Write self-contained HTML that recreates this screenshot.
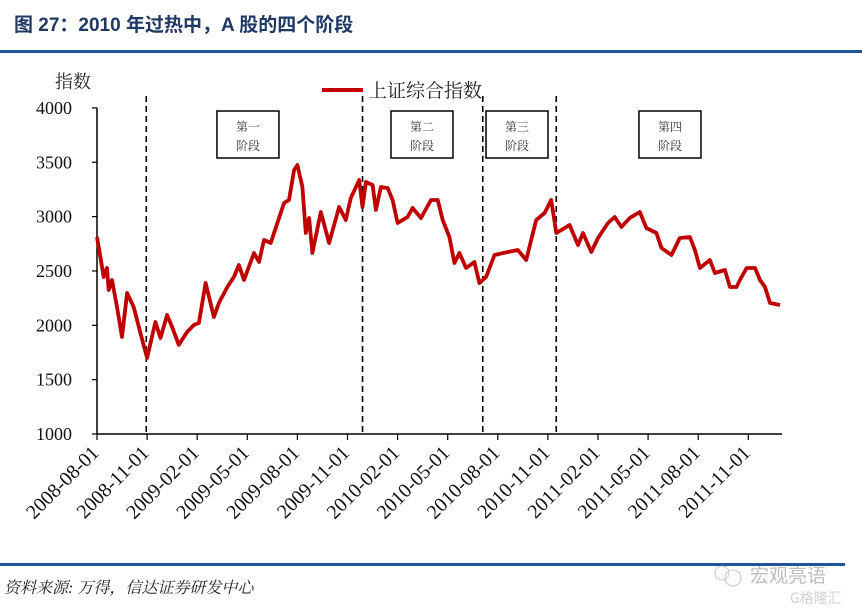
<!DOCTYPE html>
<html><head><meta charset="utf-8">
<style>
html,body{margin:0;padding:0;background:#fff;}
body{width:862px;height:611px;overflow:hidden;position:relative;font-family:"Liberation Serif","Noto Serif CJK SC",serif;}
</style></head>
<body>
<svg width="862" height="611" viewBox="0 0 862 611" xmlns="http://www.w3.org/2000/svg">
  <text x="14" y="31" font-family="Liberation Sans, Noto Sans CJK SC, sans-serif" font-weight="bold" font-size="19" fill="#1f3864">图 27：2010 年过热中，A 股的四个阶段</text>
  <rect x="0" y="50" width="862" height="3" fill="#1f5597"/>
  <text x="55" y="88" font-size="18" fill="#222" font-family="Liberation Serif, Noto Serif CJK SC, serif">指数</text>
  <g id="axes"></g>
  <g id="stages"></g>
  <g id="series"></g>
  <g>
    <line x1="322" y1="90" x2="363" y2="90" stroke="#c00000" stroke-width="4"/>
    <text x="368" y="97" font-size="19" fill="#222" font-family="Liberation Serif, Noto Serif CJK SC, serif">上证综合指数</text>
  </g>
  <rect x="0" y="563" width="845" height="3" fill="#1f5597"/>
  <text x="4" y="593" font-size="16" font-style="italic" fill="#222" font-family="Liberation Serif, Noto Serif CJK SC, serif">资料来源: 万得，信达证券研发中心</text>
  <g opacity="0.55">
    <circle cx="722" cy="573" r="7" fill="none" stroke="#999"/>
    <circle cx="733" cy="578" r="8" fill="none" stroke="#999"/>
    <text x="750" y="582" font-size="19" fill="#888" font-family="Noto Sans CJK SC, sans-serif">宏观亮语</text>
    <text x="790" y="603" font-size="14" fill="#aaa" font-family="Noto Sans CJK SC, sans-serif">G格隆汇</text>
  </g>
</svg>
<script>
// month offsets since 2008-08-01
var monthsT=[0,.4,.6,.7,.9,1.2,1.5,1.8,2.2,2.6,3.0,3.5,3.8,4.2,4.5,4.9,5.4,5.8,6.1,6.5,7.0,7.3,7.8,8.2,8.5,8.8,9.4,9.7,10.0,10.4,10.8,11.2,11.5,11.8,12.0,12.3,12.5,12.7,12.9,13.4,13.9,14.5,14.9,15.2,15.7,15.9,16.1,16.5,16.7,17.0,17.4,17.7,18.0,18.6,18.9,19.4,20.0,20.4,20.7,21.1,21.4,21.7,22.1,22.6,22.9,23.3,23.8,24.6,25.2,25.7,26.3,26.8,27.2,27.5,28.3,28.8,29.1,29.6,30.0,30.6,31.0,31.4,31.9,32.5,32.9,33.5,33.8,34.4,34.9,35.5,35.8,36.1,36.7,37.0,37.6,37.9,38.3,38.5,38.9,39.4,39.7,40.0,40.3,40.9];
var indexValues=[2812,2444,2527,2325,2417,2168,1892,2297,2168,1929,1700,2030,1883,2095,1985,1820,1940,2003,2021,2389,2076,2205,2352,2444,2555,2417,2665,2582,2785,2757,2941,3125,3153,3429,3475,3272,2849,2987,2665,3042,2757,3088,2969,3171,3337,3088,3318,3291,3061,3272,3263,3153,2941,2996,3079,2987,3153,3153,2969,2812,2573,2665,2527,2582,2389,2444,2647,2674,2693,2601,2969,3033,3153,2849,2923,2739,2849,2674,2803,2941,2996,2904,2987,3042,2895,2849,2711,2647,2803,2812,2693,2527,2601,2481,2509,2352,2352,2417,2527,2527,2417,2352,2205,2187];
var yTicks=[1000,1500,2000,2500,3000,3500,4000];
var xTickLabels=["2008-08-01","2008-11-01","2009-02-01","2009-05-01","2009-08-01","2009-11-01","2010-02-01","2010-05-01","2010-08-01","2010-11-01","2011-02-01","2011-05-01","2011-08-01","2011-11-01"];
var stageBoundaries=[2.95,15.9,23.1,27.5];
var stageLabels=["第一","第二","第三","第四"];
var stageBoxMonths=[9.04,19.46,25.15,34.31];

var NS="http://www.w3.org/2000/svg";
var X0=97,PXM=16.7,Y1000=434,PX=0.1087;
function xs(m){return X0+m*PXM;}
function ys(v){return Y1000-(v-1000)*PX;}
function mk(tag,attrs,parent){var e=document.createElementNS(NS,tag);for(var k in attrs)e.setAttribute(k,attrs[k]);parent.appendChild(e);return e;}
var axes=document.getElementById('axes');
var ax=mk('line',{x1:X0,y1:ys(4000),x2:X0,y2:Y1000,stroke:'#000','stroke-width':1.5},axes);


var bx=mk('line',{x1:X0,y1:Y1000,x2:782,y2:Y1000,stroke:'#000','stroke-width':1.5},axes);


yTicks.forEach(function(v){
  var t=mk('line',{x1:X0-5,y1:ys(v),x2:X0,y2:ys(v),stroke:'#000','stroke-width':1.2},axes);
  
  
  var l=mk('text',{x:72,y:ys(v)+6,'text-anchor':'end','font-size':18,fill:'#111'},axes);
  l.textContent=v;
  
  
});
xTickLabels.forEach(function(s,i){
  var x=xs(i*3);
  var t=mk('line',{x1:x,y1:Y1000,x2:x,y2:Y1000+6,stroke:'#000','stroke-width':1.2},axes);
  
  
  var l=mk('text',{x:x+3,y:Y1000+20,'text-anchor':'end','font-size':20,fill:'#111',transform:'rotate(-45 '+(x+3)+' '+(Y1000+20)+')'},axes);
  l.textContent=s;
  
  
});
var stg=document.getElementById('stages');
stageBoundaries.forEach(function(m){
  var d=mk('line',{x1:xs(m),y1:96,x2:xs(m),y2:Y1000,stroke:'#000','stroke-width':1.6,'stroke-dasharray':'6,4'},stg);
  
  
});
stageLabels.forEach(function(s,i){
  var cx=xs(stageBoxMonths[i]);
  var r=mk('rect',{x:cx-31,y:111,width:62,height:47,fill:'#fff',stroke:'#000','stroke-width':1.5},stg);
  
  
  var t1=mk('text',{x:cx,y:131,'text-anchor':'middle','font-size':12,fill:'#333'},stg);
  t1.textContent=s;
  
  
  var t2=mk('text',{x:cx,y:150,'text-anchor':'middle','font-size':12,fill:'#333'},stg);
  t2.textContent='阶段';
  
  
});
var pts=monthsT.map(function(m,i){return xs(m).toFixed(1)+','+ys(indexValues[i]).toFixed(1);}).join(' ');
var line=mk('polyline',{points:pts,fill:'none',stroke:'#c00000','stroke-width':3.8,'stroke-linejoin':'round'},document.getElementById('series'));


</script>
</body></html>
